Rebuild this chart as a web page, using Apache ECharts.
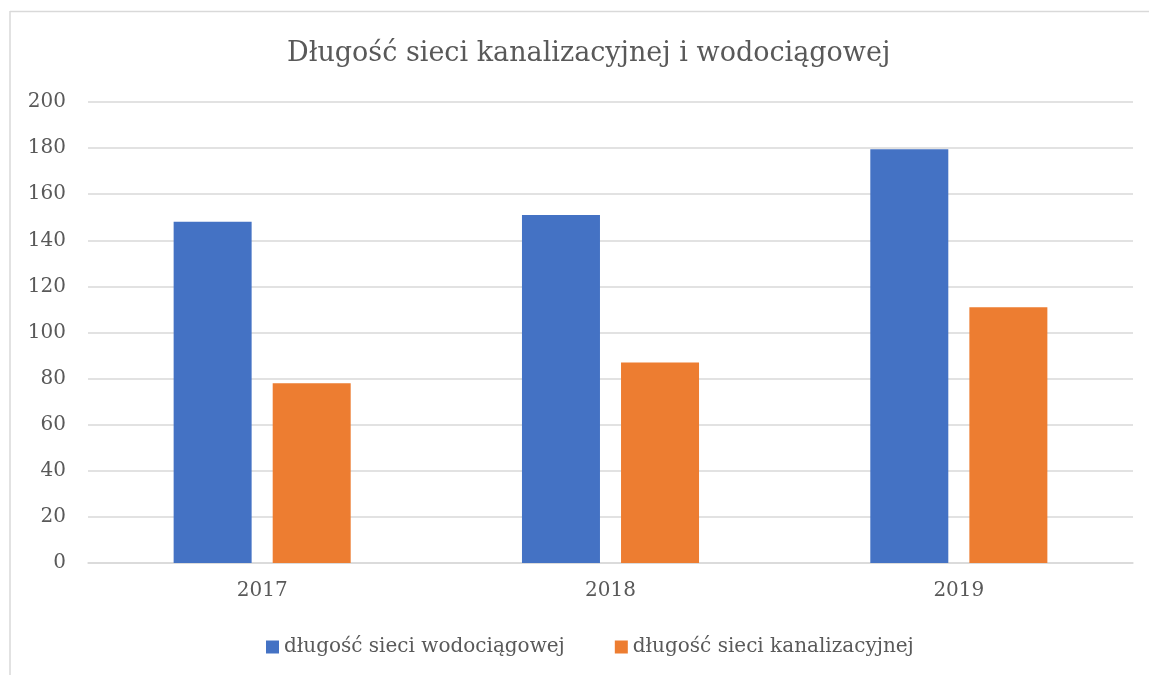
<!DOCTYPE html>
<html><head><meta charset="utf-8">
<script src="https://cdn.jsdelivr.net/npm/echarts@6/dist/echarts.min.js"></script>
<style>html,body{margin:0;padding:0;background:#fff}#c{width:1149px;height:675px}</style>
</head><body><div id="c"></div>
<script>
const categories = ['2017', '2018', '2019'];
const seriesNames = ['długość sieci wodociągowej', 'długość sieci kanalizacyjnej'];
const water = [148, 151, 179.5];
const sewer = [78, 87, 111];
const yTicks = { min: 0, max: 200, interval: 20 };
const titleText = 'Długość sieci kanalizacyjnej i wodociągowej';

const FONT = 'DejaVu Serif';
const TXT = '#595959';
const chart = echarts.init(document.getElementById('c'), null, { renderer: 'canvas' });
chart.setOption({
  animation: false,
  backgroundColor: '#fff',
  graphic: [
    { type: 'line', shape: { x1: 10, y1: 11.5, x2: 1149, y2: 11.5 },
      style: { stroke: '#d9d9d9', lineWidth: 1.5 }, silent: true },
    { type: 'line', shape: { x1: 10, y1: 11, x2: 10, y2: 675 },
      style: { stroke: '#d9d9d9', lineWidth: 1.5 }, silent: true }
  ],
  title: {
    text: titleText, left: 287, top: 40, padding: 0,
    textStyle: { fontFamily: FONT, fontSize: 27, fontWeight: 'normal', color: TXT }
  },
  legend: {
    data: seriesNames, left: 266, top: 637, padding: 0,
    icon: 'rect', itemWidth: 13, itemHeight: 13, itemGap: 50,
    textStyle: { fontFamily: FONT, fontSize: 20, color: TXT }
  },
  grid: { left: 88, right: 16, top: 102, bottom: 112, containLabel: false },
  xAxis: {
    type: 'category', data: categories,
    axisLine: { lineStyle: { color: '#d9d9d9', width: 1.5 } },
    axisTick: { show: false },
    axisLabel: { fontFamily: FONT, fontSize: 20, color: TXT, margin: 18 }
  },
  yAxis: {
    type: 'value', min: yTicks.min, max: yTicks.max, interval: yTicks.interval,
    axisLine: { show: false }, axisTick: { show: false },
    splitLine: { lineStyle: { color: '#d9d9d9', width: 1.5 } },
    axisLabel: { fontFamily: FONT, fontSize: 20, color: TXT, margin: 22 }
  },
  series: [
    { name: seriesNames[0], type: 'bar', data: water, barWidth: 78, barGap: '27%',
      itemStyle: { color: '#4472C4' } },
    { name: seriesNames[1], type: 'bar', data: sewer, barWidth: 78,
      itemStyle: { color: '#ED7D31' } }
  ]
});
</script></body></html>
